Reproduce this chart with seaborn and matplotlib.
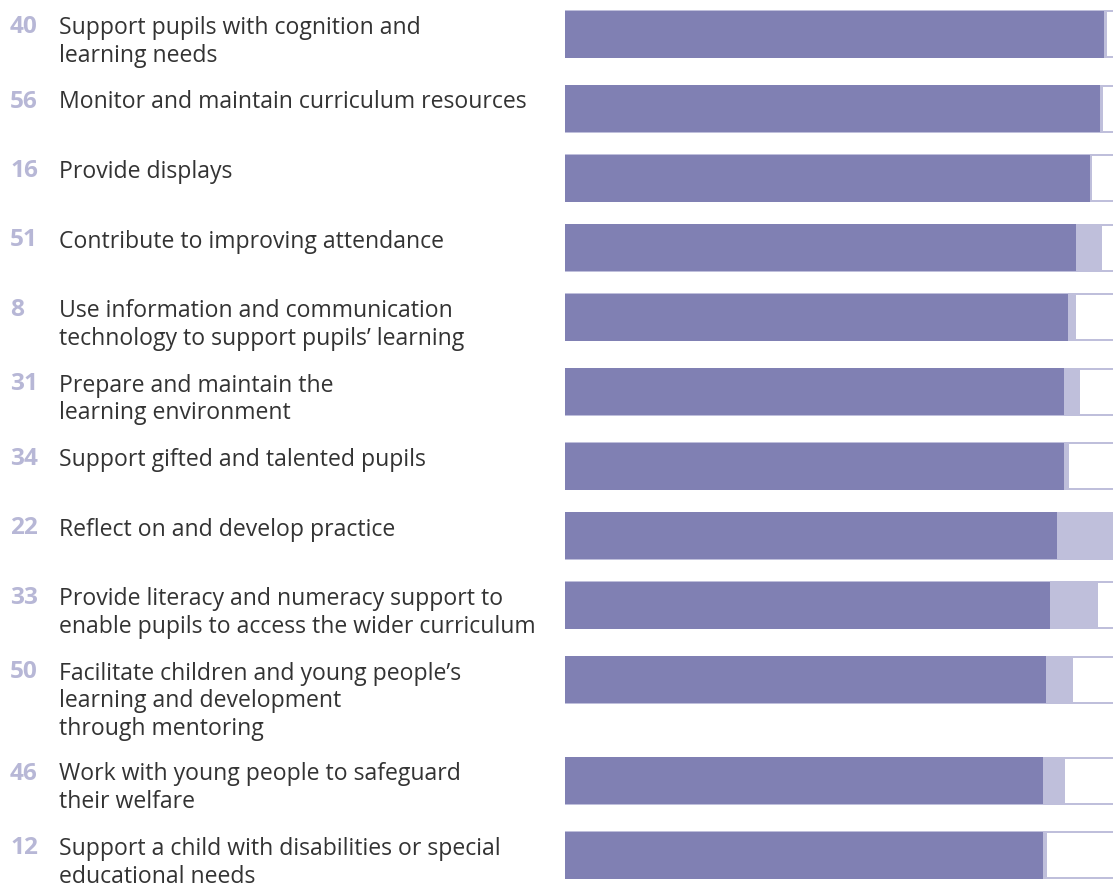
import matplotlib
matplotlib.use("Agg")
import matplotlib.pyplot as plt
import seaborn as sns
import numpy as np

# ---- data ----
numbers = [40, 56, 16, 51, 8, 31, 34, 22, 33, 50, 46, 12]
labels = [
    "Support pupils with cognition and\nlearning needs",
    "Monitor and maintain curriculum resources",
    "Provide displays",
    "Contribute to improving attendance",
    "Use information and communication\ntechnology to support pupils\u2019 learning",
    "Prepare and maintain the\nlearning environment",
    "Support gifted and talented pupils",
    "Reflect on and develop practice",
    "Provide literacy and numeracy support to\nenable pupils to access the wider curriculum",
    "Facilitate children and young people\u2019s\nlearning and development\nthrough mentoring",
    "Work with young people to safeguard\ntheir welfare",
    "Support a child with disabilities or special\neducational needs",
]
dark_pct = [89.8, 89.2, 87.5, 85.2, 83.8, 83.2, 83.2, 82.0, 80.8, 80.2, 79.7, 79.7]
light_pct = [0.2, 0.1, 0.1, 4.0, 1.1, 2.4, 0.5, 18.0, 7.8, 4.2, 3.4, 0.4]

DARK = "#8080b3"
LIGHT = "#bfbfdb"
NUM = "#b7b7d6"
TXT = "#333333"

sns.set_theme(style="white")
plt.rcParams["font.family"] = ["Open Sans", "DejaVu Sans"]

W, H = 1113, 889
fig = plt.figure(figsize=(W / 100, H / 100), dpi=100)
fig.patch.set_facecolor("white")

# layout: bar tops from label line counts
bar_h = 48
tops = []
t = 10.0
for lab in labels:
    tops.append(t)
    n = lab.count("\n") + 1
    t += max(bar_h, 26.5 * n) + 21.5
centers = [tp + bar_h / 2 for tp in tops]

x0 = 565
ax = fig.add_axes([x0 / W, 0, 1 - x0 / W, 1])
xmax = (W - x0) / 600 * 100

gap = min(np.diff(centers))

full = [100.0] * len(labels)
dl = [d + l for d, l in zip(dark_pct, light_pct)]

# light background (full), white remainder (inset), dark on top
sns.barplot(x=full, y=centers, orient="h", native_scale=True, width=bar_h / gap,
            color=LIGHT, saturation=1, linewidth=0, ax=ax)
for d, c in zip(dl, centers):
    ax.barh(c, 100 - d - 0.3, left=d + 0.3, height=bar_h - 4,
            color="white", linewidth=0)
sns.barplot(x=dark_pct, y=centers, orient="h", native_scale=True,
            width=(bar_h - 1) / gap, color=DARK, saturation=1, linewidth=0, ax=ax)
ax.set_xlim(0, xmax)
ax.set_ylim(H, 0)
ax.axis("off")

# text axes
tax = fig.add_axes([0, 0, 1, 1], zorder=-1)
tax.set_xlim(0, W)
tax.set_ylim(H, 0)
tax.axis("off")
for num, lab, tp in zip(numbers, labels, tops):
    tax.text(10, tp + 5, str(num), ha="left", va="top", color=NUM,
             fontsize=17.6, fontweight="bold")
    tax.text(59, tp + 6, lab, ha="left", va="top", color=TXT,
             fontsize=16.6, linespacing=1.22)

fig.savefig("out.png", dpi=100, facecolor="white")
